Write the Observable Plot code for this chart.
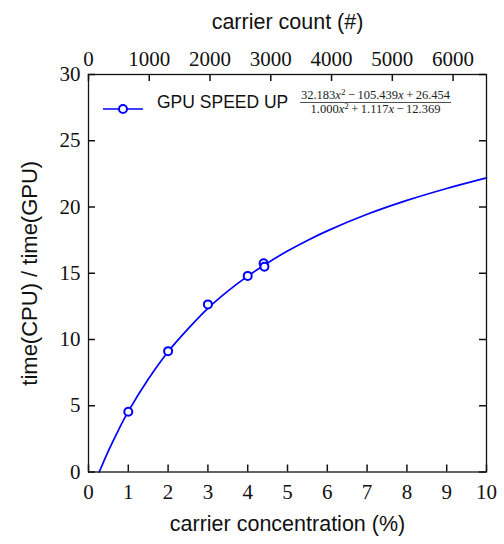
<!DOCTYPE html>
<html>
<head>
<meta charset="utf-8">
<script src="https://cdn.jsdelivr.net/npm/d3@7"></script>
<script src="https://cdn.jsdelivr.net/npm/@observablehq/plot@0.6"></script>
<style>
  html, body { margin: 0; padding: 0; background: #fff; }
  #chart { position: relative; width: 504px; height: 544px; }
</style>
</head>
<body>
<div id="chart"></div>
<script>
// fitted curve
const curveConc = [0.27, 0.5, 0.75, 1, 1.5, 2, 2.5, 3, 3.5, 4, 4.5, 5, 5.5, 6, 7, 8, 9, 10];
const curveSpeedup = [0, 1.6, 3.15, 4.57, 7.0, 9.08, 10.8, 12.35, 13.65, 14.78, 15.78, 16.68, 17.48, 18.2, 19.45, 20.5, 21.4, 22.2];
// measured points
const pointConc = [1, 2, 3, 4, 4.4, 4.42];
const pointSpeedup = [4.55, 9.12, 12.65, 14.8, 15.75, 15.5];
// ticks
const xTicks = [0, 1, 2, 3, 4, 5, 6, 7, 8, 9, 10];
const yTicks = [0, 5, 10, 15, 20, 25, 30];
const countTicks = [0, 1000, 2000, 3000, 4000, 5000, 6000];
const countPerPercent = 655;
const seriesName = "GPU SPEED UP";
const xLabel = "carrier concentration (%)";
const x2Label = "carrier count (#)";
const yLabel = "time(CPU) / time(GPU)";

const curve = curveConc.map((x, i) => ({x, y: curveSpeedup[i]}));
const points = pointConc.map((x, i) => ({x, y: pointSpeedup[i]}));
const countPos = countTicks.map(c => c / countPerPercent);

const serif = "'Liberation Serif', 'Times New Roman', serif";
const sans = "'Liberation Sans', Arial, sans-serif";
const blue = "#0000ff";
const ink = "#111";
const W = 504, H = 544, ML = 88, MR = 18, MT = 74, MB = 72.5;
const T = 7; // inward tick length
const frameW = W - ML - MR, frameH = H - MT - MB;

const chart = Plot.plot({
  width: W,
  height: H,
  marginLeft: ML,
  marginRight: MR,
  marginTop: MT,
  marginBottom: MB,
  style: {fontFamily: serif, fontSize: "21px", color: ink, background: "#fff"},
  x: {domain: [0, 10]},
  y: {domain: [0, 30]},
  marks: [
    Plot.line(curve, {x: "x", y: "y", curve: "catmull-rom", stroke: blue, strokeWidth: 1.7}),
    Plot.dot(points, {x: "x", y: "y", r: 4, stroke: blue, strokeWidth: 2, fill: "white"}),
    // inward ticks
    Plot.ruleX(xTicks, {x: d => d, insetTop: frameH - T, stroke: ink, strokeWidth: 1.5}),
    Plot.ruleX(countPos, {x: d => d, insetBottom: frameH - T, stroke: ink, strokeWidth: 1.5}),
    Plot.ruleY(yTicks, {y: d => d, insetRight: frameW - T, stroke: ink, strokeWidth: 1.5}),
    Plot.ruleY(yTicks, {y: d => d, insetLeft: frameW - T, stroke: ink, strokeWidth: 1.5}),
    // tick labels
    Plot.axisX({anchor: "bottom", ticks: xTicks, tickSize: 0, tickPadding: 11.6, label: null, tickFormat: d => String(d)}),
    Plot.axisX({anchor: "top", ticks: countPos, tickSize: 0, tickPadding: 9, label: null, tickFormat: d => String(Math.round(d * countPerPercent))}),
    Plot.axisY({anchor: "left", ticks: yTicks, tickSize: 0, tickPadding: 8, label: null, tickFormat: d => String(d)}),
    Plot.frame({stroke: ink, strokeWidth: 1.3}),
    Plot.text([xLabel], {text: d => d, frameAnchor: "bottom", dy: 58.5, lineAnchor: "bottom", fontFamily: sans, fontSize: 21.5, fill: ink}),
    Plot.text([x2Label], {text: d => d, frameAnchor: "top", dy: -46, lineAnchor: "bottom", fontFamily: sans, fontSize: 21.5, fill: ink}),
    Plot.text([yLabel], {text: d => d, frameAnchor: "left", textAnchor: "middle", dx: -59, rotate: -90, lineAnchor: "middle", fontFamily: sans, fontSize: 22, fill: ink})
  ]
});
document.getElementById("chart").appendChild(chart);

// legend (inside the frame, top-left)
const svg = d3.select(chart);
const lg = svg.append("g").attr("class", "legend");
lg.append("line").attr("x1", 103).attr("x2", 143).attr("y1", 109).attr("y2", 109)
  .attr("stroke", blue).attr("stroke-width", 1.7);
lg.append("circle").attr("cx", 123).attr("cy", 109).attr("r", 4)
  .attr("stroke", blue).attr("stroke-width", 2).attr("fill", "white");
lg.append("text").attr("x", 157).attr("y", 108).attr("text-anchor", "start")
  .attr("font-family", sans).attr("font-size", 17.5)
  .attr("fill", ink).text(seriesName);

function fracLine(parent, y, parts) {
  const t = parent.append("text").attr("x", 375.5).attr("y", y).attr("text-anchor", "middle")
    .attr("font-family", serif).attr("font-size", 12.5).attr("fill", "#222");
  parts.forEach(p => {
    const s = t.append("tspan").text(p.t);
    if (p.i) s.attr("font-style", "italic");
    if (p.sup) s.attr("font-size", 9).attr("dy", -4.5);
    if (p.down) s.attr("dy", 4.5);
  });
}
fracLine(lg, 99, [{t: "32.183"}, {t: "x", i: true}, {t: "2", sup: true}, {t: "\u2009\u2212\u2009105.439", down: true}, {t: "x", i: true}, {t: "\u2009+\u200926.454"}]);
lg.append("line").attr("x1", 300).attr("x2", 451).attr("y1", 102.5).attr("y2", 102.5)
  .attr("stroke", "#222").attr("stroke-width", 0.8);
fracLine(lg, 113, [{t: "1.000"}, {t: "x", i: true}, {t: "2", sup: true}, {t: "\u2009+\u20091.117", down: true}, {t: "x", i: true}, {t: "\u2009\u2212\u200912.369"}]);
</script>
</body>
</html>
